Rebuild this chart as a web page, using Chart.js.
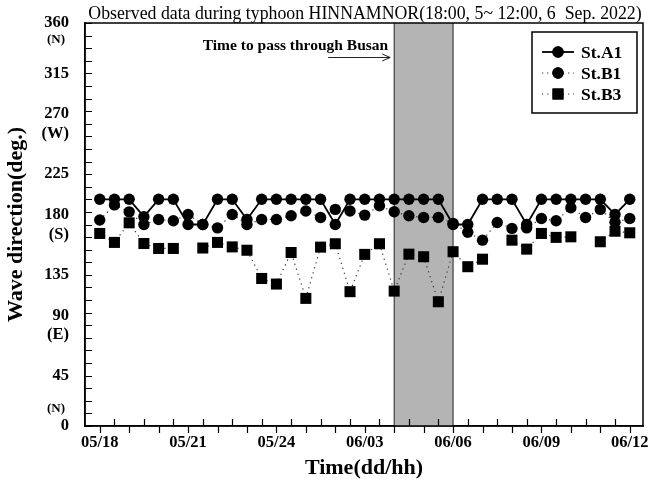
<!DOCTYPE html>
<html>
<head>
<meta charset="utf-8">
<script src="https://cdn.jsdelivr.net/npm/chart.js@4.4.1/dist/chart.umd.min.js"></script>
<style>
  html, body { margin: 0; padding: 0; background: #fff; }
</style>
</head>
<body>
<canvas id="chart" width="651" height="485"></canvas>
<script>
// time axis: hours after 05/18, one point every half hour
const xTickLabels = ['05/18', '05/21', '05/24', '06/03', '06/06', '06/09', '06/12'];
const labelEvery = 3;      // hours between labelled ticks
const stepHours = 0.5;     // sampling step
const passStart = 10;      // typhoon passing Busan (hours)
const passEnd = 12;

// wave direction (deg.)
const stA1 = [202.5, 202.5, 202.5, 187, 202.5, 202.5, 180, 180, 202.5, 202.5, 184.5, 202.5, 202.5,
  202.5, 202.5, 202.5, 180, 202.5, 202.5, 202.5, 202.5, 202.5, 202.5, 202.5, 180, 180,
  202.5, 202.5, 202.5, 180, 202.5, 202.5, 202.5, 202.5, 202.5, 189, 202.5];
const stB1 = [184, 197.5, 191.3, 180, 184.5, 183.3, 189, 180, 177, 189, 180, 184.5, 184.5,
  187.8, 192, 186.3, 193.5, 192, 188.4, 196.7, 191.4, 187.8, 186.3, 186.3, 181, 173,
  166, 181.8, 176.5, 177, 185.4, 183.3, 195, 186.3, 193.5, 182, 185.4];
const stB3 = [172, 164, 181.5, 163, 158.6, 158.6, null, 159, 164, 160, 157, 131.8, 126.8,
  155, 114, 159.8, 162.8, 120, 153.3, 162.8, 120.5, 153.5, 151.2, 111, 155.7, 142.3,
  149, null, 166, 158, 172, 168.5, 169, null, 164.6, 174, 172.6];

const yMajor = 45;
const yMinor = 11.25;
const compass = { 0: '(N)', 90: '(E)', 180: '(S)', 270: '(W)', 360: '(N)' };

const toPoints = (arr) => arr.map((v, i) => ({ x: i * stepHours, y: v }));

const serif = '"Liberation Serif", "Times New Roman", serif';

const decor = {
  id: 'decor',
  beforeDatasetsDraw(chart) {
    const { ctx, chartArea: a, scales: { x } } = chart;
    const x1 = x.getPixelForValue(passStart);
    const x2 = x.getPixelForValue(passEnd);
    ctx.save();
    ctx.fillStyle = '#b4b4b4';
    ctx.fillRect(x1, a.top, x2 - x1, a.bottom - a.top);
    ctx.strokeStyle = '#222';
    ctx.lineWidth = 1;
    ctx.beginPath();
    ctx.moveTo(x1, a.top); ctx.lineTo(x1, a.bottom);
    ctx.moveTo(x2, a.top); ctx.lineTo(x2, a.bottom);
    ctx.stroke();
    ctx.restore();
  },
  afterDraw(chart) {
    const { ctx, chartArea: a, scales: { x, y } } = chart;
    ctx.save();
    // frame
    ctx.strokeStyle = '#000';
    ctx.lineWidth = 1.5;
    ctx.strokeRect(a.left, a.top, a.right - a.left, a.bottom - a.top);

    // ticks
    ctx.lineWidth = 1.2;
    ctx.beginPath();
    y.ticks.forEach(t => {
      const py = Math.round(y.getPixelForValue(t.value)) + 0.5;
      ctx.moveTo(a.left, py); ctx.lineTo(a.left + 7, py);
    });
    x.ticks.forEach(t => {
      const px = Math.round(x.getPixelForValue(t.value)) + 0.5;
      const whole = Number.isInteger(t.value);
      ctx.moveTo(px, a.bottom);
      ctx.lineTo(px, whole ? a.bottom + 7 : a.bottom - 7);
    });
    ctx.stroke();

    // compass letters for 0 and 360
    ctx.fillStyle = '#000';
    ctx.font = 'bold 13px ' + serif;
    ctx.textAlign = 'center';
    ctx.textBaseline = 'middle';
    ctx.fillText(compass[360], a.left - 29, y.getPixelForValue(360) + 17);
    ctx.fillText(compass[0], a.left - 29, y.getPixelForValue(0) - 17);

    // title
    ctx.font = '17.8px ' + serif;
    ctx.textBaseline = 'alphabetic';
    ctx.fillText('Observed data during typhoon HINNAMNOR(18:00, 5~ 12:00, 6  Sep. 2022)', (a.left + a.right) / 2 + 1, 19);

    // passing annotation
    const xs = x.getPixelForValue(passStart);
    ctx.font = 'bold 15.5px ' + serif;
    ctx.textAlign = 'right';
    ctx.fillText('Time to pass through Busan', xs - 6, 50);
    ctx.strokeStyle = '#222';
    ctx.lineWidth = 1;
    ctx.beginPath();
    ctx.moveTo(xs - 66, 57.5); ctx.lineTo(xs - 4, 57.5);
    ctx.moveTo(xs - 12, 54); ctx.lineTo(xs - 4, 57.5); ctx.lineTo(xs - 12, 61);
    ctx.stroke();

    // legend
    const bx = 532, by = 32, bw = 105, bh = 81;
    ctx.strokeStyle = '#000';
    ctx.lineWidth = 1.5;
    ctx.strokeRect(bx, by, bw, bh);
    chart.data.datasets.forEach((ds, i) => {
      const ly = by + 20 + i * 21;
      ctx.save();
      ctx.strokeStyle = ds.borderColor;
      ctx.lineWidth = ds.borderWidth;
      ctx.setLineDash(ds.borderDash || []);
      ctx.beginPath();
      ctx.moveTo(bx + 10, ly); ctx.lineTo(bx + 42, ly);
      ctx.stroke();
      ctx.restore();
      Chart.helpers.drawPoint(ctx, {
        pointStyle: ds.pointStyle, radius: ds.pointRadius, borderWidth: 0, rotation: 0
      }, bx + 26, ly);
      ctx.fillStyle = '#000';
      ctx.fill();
      ctx.font = 'bold 17.5px ' + serif;
      ctx.textAlign = 'left';
      ctx.textBaseline = 'middle';
      ctx.fillText(ds.label, bx + 49, ly + 1);
    });
    ctx.restore();
  }
};

new Chart(document.getElementById('chart'), {
  type: 'line',
  data: {
    datasets: [
      {
        label: 'St.A1', data: toPoints(stA1),
        borderColor: '#000', borderWidth: 1.8, backgroundColor: '#000',
        pointStyle: 'circle', pointRadius: 5.7, pointBorderWidth: 0
      },
      {
        label: 'St.B1', data: toPoints(stB1),
        borderColor: '#333', borderWidth: 1.2, borderDash: [1.2, 4], backgroundColor: '#000',
        pointStyle: 'circle', pointRadius: 5.7, pointBorderWidth: 0
      },
      {
        label: 'St.B3', data: toPoints(stB3),
        borderColor: '#333', borderWidth: 1.2, borderDash: [1.2, 4], backgroundColor: '#000',
        pointStyle: 'rect', pointRadius: 7.8, pointBorderWidth: 0
      }
    ]
  },
  options: {
    responsive: false,
    animation: false,
    devicePixelRatio: 1,
    spanGaps: false,
    layout: { padding: { top: 23, right: 8, left: 0, bottom: 0 } },
    plugins: { legend: { display: false }, tooltip: { enabled: false }, title: { display: false } },
    scales: {
      x: {
        type: 'linear', min: -0.5, max: 18.45,
        afterBuildTicks: (s) => {
          s.ticks = [];
          for (let v = 0; v <= (xTickLabels.length - 1) * labelEvery; v += stepHours) s.ticks.push({ value: v });
        },
        afterFit: (s) => { s.height = 59; s.paddingLeft = 0; s.paddingRight = 0; },
        grid: { display: false, drawTicks: false, tickLength: 0 },
        border: { display: true, color: '#000', width: 1.5 },
        ticks: {
          autoSkip: false, maxRotation: 0, padding: 7, color: '#000',
          font: { family: serif, size: 16.5, weight: 'bold' },
          callback: (v) => (v % labelEvery === 0 ? xTickLabels[v / labelEvery] : '')
        },
        title: {
          display: true, text: 'Time(dd/hh)', color: '#000',
          font: { family: serif, size: 22, weight: 'bold' },
          padding: { top: 0, bottom: 3 }
        }
      },
      y: {
        min: 0, max: 360,
        afterBuildTicks: (s) => {
          s.ticks = [];
          for (let v = 0; v <= 360; v += yMinor) s.ticks.push({ value: v });
        },
        afterFit: (s) => { s.width = 85; s.paddingTop = 0; s.paddingBottom = 0; },
        grid: { display: false, drawTicks: false, tickLength: 0 },
        border: { display: true, color: '#000', width: 1.5 },
        ticks: {
          autoSkip: false, padding: 16, color: '#000',
          font: { family: serif, size: 16.5, weight: 'bold' },
          callback: (v) => {
            if (v % yMajor !== 0) return '';
            if (v === 0 || v === 360) return String(v);
            return compass[v] ? [String(v), compass[v]] : String(v);
          }
        },
        title: {
          display: true, text: 'Wave direction(deg.)', color: '#000',
          font: { family: serif, size: 22, weight: 'bold' },
          padding: { top: 3, bottom: 0 }
        }
      }
    }
  },
  plugins: [decor]
});
</script>
</body>
</html>
